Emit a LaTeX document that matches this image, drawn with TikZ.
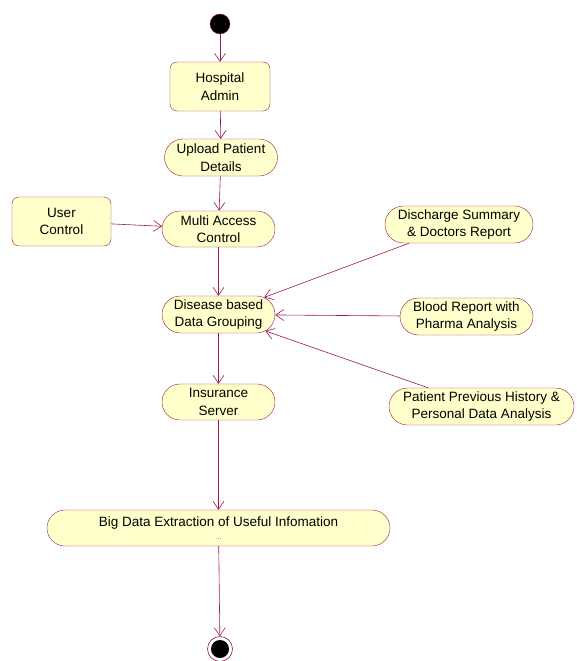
\documentclass[tikz,border=0pt]{standalone}
\usepackage{fontspec}
\setmainfont{Liberation Sans}
\usepackage{tikz}
\usetikzlibrary{arrows.meta, shapes.misc}

\definecolor{umlred}{RGB}{160,25,70}
\definecolor{umlfill}{RGB}{255,255,204}

\tikzset{
    act/.style={rounded rectangle, draw=umlred, fill=umlfill, align=center,
        minimum height=37pt, inner xsep=2pt, font=\fontsize{13.5}{17.5}\selectfont},
    state/.style={rectangle, rounded corners=7pt, draw=umlred, fill=umlfill, align=center,
        minimum height=49pt, font=\fontsize{13.5}{17.5}\selectfont},
    flow/.style={->, draw=umlred, line width=0.6pt}
}

\begin{document}
\begin{tikzpicture}[x=1pt, y=-1pt, >={Straight Barb[length=8pt, width=11pt]}]
        \useasboundingbox (0,0) rectangle (576,661);
        % Start and end
        \node[circle, fill=black, draw=umlred, minimum size=20pt, inner sep=0pt] (start) at (220,24) {};
        \node[circle, draw=umlred, fill=white, line width=0.6pt, minimum size=25pt, inner sep=0pt] (stop) at (220,649) {};
        \fill[black] (stop) circle (9pt);

        % Main column
        \node[state, minimum width=100pt] (admin) at (220,86.5) {Hospital\\Admin};
        \node[act, minimum width=117pt] (upload) at (221,157.5) {Upload Patient\\Details};
        \node[act, minimum width=117pt, minimum height=36pt] (access) at (218.5,229) {Multi Access\\Control};
        \node[act, minimum width=117pt] (group) at (218.5,314.5) {Disease based\\Data Grouping};
        \node[act, minimum width=117pt, minimum height=36pt] (insure) at (218.5,402) {Insurance\\Server};
        \node[act, minimum width=347pt, minimum height=36pt] (bigdata) at (218.5,528)
            {Big Data Extraction of Useful Infomation\\[-4pt]{\color{gray}\fontsize{8}{8}\selectfont ...}};

        % Side nodes
        \node[state, minimum width=99pt] (user) at (61.5,221.5) {User\\Control};
        \node[act, minimum width=152pt] (discharge) at (459,224.5) {Discharge Summary\\\& Doctors Report};
        \node[act, minimum width=137pt] (blood) at (466.5,316.5) {Blood Report with\\Pharma Analysis};
        \node[act, minimum width=189pt] (history) at (481.5,406.5) {Patient Previous History \&\\Personal Data Analysis};

        % Flows
        \draw[flow] (start) -- (admin);
        \draw[flow] (admin) -- (upload);
        \draw[flow] (upload) -- (access);
        \draw[flow] (user) -- (access);
        \draw[flow] (access) -- (group);
        \draw[flow] (discharge) -- (group);
        \draw[flow] (blood) -- (group);
        \draw[flow] (history) -- (group);
        \draw[flow] (group) -- (insure);
        \draw[flow] (insure) -- (bigdata);
        \draw[flow] (bigdata) -- (stop);
    \end{tikzpicture}
\end{document}
